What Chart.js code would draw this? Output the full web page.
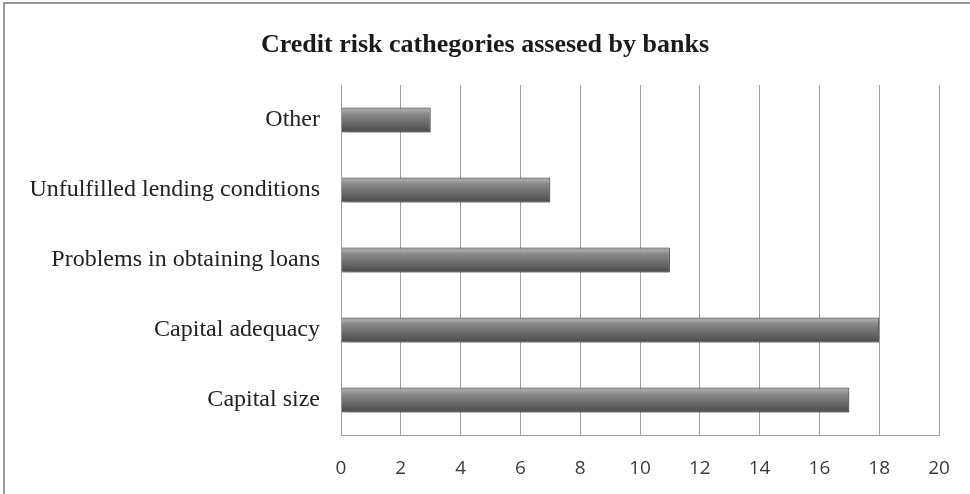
<!DOCTYPE html>
<html>
<head>
<meta charset="utf-8">
<script src="https://cdn.jsdelivr.net/npm/chart.js@4"></script>
<style>
  html, body { margin: 0; padding: 0; background: #fff; }
  #wrap { position: relative; width: 970px; height: 494px; overflow: hidden; }
  #frame {
    position: absolute; left: 3px; top: 2px; width: 980px; height: 500px;
    border-top: 2px solid #9a9a9a; border-left: 2px solid #9a9a9a;
    pointer-events: none;
  }
</style>
</head>
<body>
<div id="wrap">
  <canvas id="chart" width="970" height="494"></canvas>
  <div id="frame"></div>
</div>
<script>
// ── Data ──
const categories = [
  'Other',
  'Unfulfilled lending conditions',
  'Problems in obtaining loans',
  'Capital adequacy',
  'Capital size',
];
const counts = [3, 7, 11, 18, 17];
const xTicks = [0, 2, 4, 6, 8, 10, 12, 14, 16, 18, 20];

const titleText = 'Credit risk cathegories assesed by banks';

const CAT_PCT = 0.8, BAR_PCT = 0.45;

// bevel-ish vertical gradient per bar, placed from the y scale
function barFill(ctx) {
  const chart = ctx.chart;
  const ys = chart.scales.y;
  if (!ys || !chart.chartArea) return '#6a6a6a';
  const cy = ys.getPixelForValue(ctx.dataIndex);
  const band = (ys.bottom - ys.top) / categories.length;
  const h = band * CAT_PCT * BAR_PCT;
  if (!isFinite(cy) || !h) return '#6a6a6a';
  const g = chart.ctx.createLinearGradient(0, cy - h / 2, 0, cy + h / 2);
  g.addColorStop(0, '#7a7a7a');
  g.addColorStop(0.1, '#a9a9a9');
  g.addColorStop(0.25, '#8a8a8a');
  g.addColorStop(0.7, '#636363');
  g.addColorStop(1, '#4a4a4a');
  return g;
}

// soft drop shadow under the bars
const barShadow = {
  id: 'barShadow',
  beforeDatasetsDraw(chart) {
    const c = chart.ctx;
    c.save();
    c.shadowColor = 'rgba(0,0,0,0.25)';
    c.shadowBlur = 5;
    c.shadowOffsetX = 2;
    c.shadowOffsetY = 3;
  },
  afterDatasetsDraw(chart) { chart.ctx.restore(); },
};

// title centred on the whole canvas (the plot sits off-centre)
const centredTitle = {
  id: 'centredTitle',
  afterDraw(chart) {
    const c = chart.ctx;
    c.save();
    c.font = 'bold 26px "Liberation Serif", "Times New Roman", serif';
    c.fillStyle = '#1a1a1a';
    c.textAlign = 'center';
    c.textBaseline = 'middle';
    c.fillText(titleText, chart.width / 2, 45);
    c.restore();
  },
};

new Chart(document.getElementById('chart'), {
  type: 'bar',
  data: {
    labels: categories,
    datasets: [{
      data: counts,
      backgroundColor: barFill,
      borderColor: '#4a4a4a',
      borderWidth: 1,
      categoryPercentage: CAT_PCT,
      barPercentage: BAR_PCT,
    }],
  },
  options: {
    indexAxis: 'y',
    responsive: false,
    animation: false,
    layout: { padding: { left: 0, right: 31, top: 85, bottom: 0 } },
    plugins: {
      legend: { display: false },
      tooltip: { enabled: false },
      title: { display: false },
    },
    scales: {
      x: {
        min: 0, max: 20,
        afterBuildTicks: s => { s.ticks = xTicks.map(v => ({ value: v })); },
        afterFit: s => { s.height = 59; s.paddingRight = 0; s.paddingLeft = 0; },
        grid: { color: '#a0a0a0', lineWidth: 1, drawTicks: false },
        border: { display: true, color: '#a0a0a0' },
        ticks: {
          color: '#3c3c3c',
          padding: 22,
          font: { family: '"Open Sans", "DejaVu Sans", sans-serif', size: 19 },
        },
      },
      y: {
        grid: { display: false, drawTicks: false },
        border: { display: true, color: '#a0a0a0' },
        afterFit: s => { s.width = 341; },
        ticks: {
          color: '#222',
          padding: 21,
          font: { family: '"Liberation Serif", "Times New Roman", serif', size: 24 },
        },
      },
    },
  },
  plugins: [barShadow, centredTitle],
});
</script>
</body>
</html>
